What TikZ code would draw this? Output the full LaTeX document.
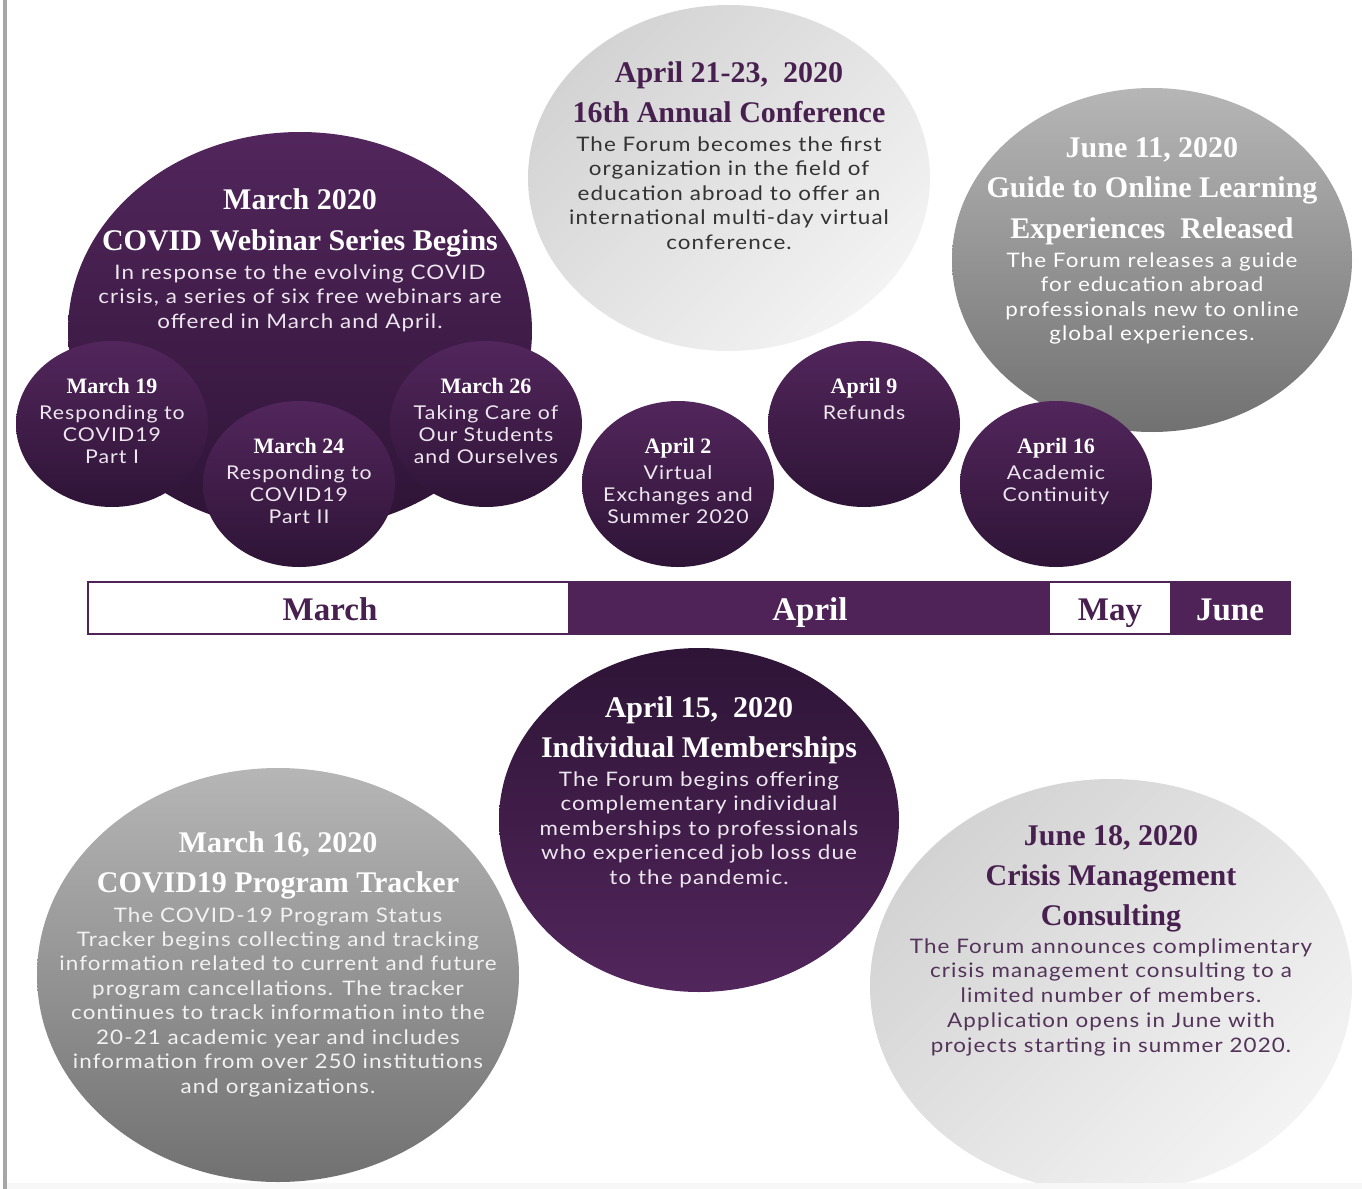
\documentclass[tikz,border=0pt]{standalone}
\usepackage{fontspec}
\setmainfont{Lato}[LetterSpace=5.5, FakeStretch=1.12]
\newfontfamily\hdfont{Liberation Serif}

\definecolor{purtop}{HTML}{52265C}
\definecolor{purbot}{HTML}{2E1436}
\definecolor{purbar}{HTML}{4F2358}
\definecolor{purtxt}{HTML}{48204F}
\definecolor{grtop}{HTML}{B6B6B6}
\definecolor{grbot}{HTML}{717171}
\definecolor{lgA}{HTML}{D3D3D3}
\definecolor{lgB}{HTML}{F3F3F3}
\definecolor{softw}{HTML}{EDE6EE}

\tikzset{
  hdbig/.style={font=\hdfont\bfseries\fontsize{15}{18}\selectfont, anchor=base, inner sep=0pt},
  hdsmall/.style={font=\hdfont\bfseries\fontsize{11}{13}\selectfont, anchor=base, inner sep=0pt},
  bodybig/.style={font=\fontsize{10}{12}\selectfont, anchor=base, inner sep=0pt},
  bodysmall/.style={font=\fontsize{9.5}{11}\selectfont, anchor=base, inner sep=0pt},
  month/.style={font=\hdfont\bfseries\fontsize{16.5}{20}\selectfont, anchor=base, inner sep=0pt},
  purball/.style={top color=purtop, bottom color=purbot},
  purflip/.style={top color=purbot, bottom color=purtop},
  grayball/.style={top color=grtop, bottom color=grbot},
  lightball/.style={top color=lgA, bottom color=lgB, shading angle=45},
}

\begin{document}
\begin{tikzpicture}[x=0.5pt, y=-0.5pt]
\useasboundingbox (0,0) rectangle (1362,1189);
%\draw[step=100,gray,very thin] (0,0) grid (1362,1189);

\fill[black!35] (3,0) rectangle (7,1189);

% top row of bubbles
\shade[lightball] (729,178) ellipse [x radius=201, y radius=173];
\shade[grayball] (1152,260) ellipse [x radius=200, y radius=172];
\shade[purball] (300,331) ellipse [x radius=232, y radius=199];

\shade[purball] (112,424) ellipse [x radius=96, y radius=83];
\shade[purball] (486,424) ellipse [x radius=96, y radius=83];
\shade[purball] (299,484) ellipse [x radius=96, y radius=83];
\shade[purball] (678,484) ellipse [x radius=96, y radius=83];
\shade[purball] (864,424) ellipse [x radius=96, y radius=83];
\shade[purball] (1056,484) ellipse [x radius=96, y radius=83];

% bottom row of bubbles
\shade[purflip] (699,820) ellipse [x radius=200, y radius=172];
\shade[grayball] (278,975) ellipse [x radius=241, y radius=207];
\shade[lightball] (1111,986) ellipse [x radius=241, y radius=207];

\fill[black!3] (7,1183) rectangle (1362,1189);

% March 2020
\node[hdbig, text=white] (m20a) at (300,209) {March 2020};
\node[hdbig, text=white] (m20b) at (300,250) {COVID Webinar Series Begins};
\foreach \ln [count=\i from 0] in {{In response to the evolving COVID},{crisis, a series of six free webinars are},{offered in March and April.}}
  \node[bodybig, text=softw] (m20t\i) at (300,279+24.5*\i) {\ln};

% webinars
\node[hdsmall, text=white] (m19) at (112,393) {March 19};
\foreach \ln [count=\i from 0] in {Responding to,COVID19,Part I}
  \node[bodysmall, text=softw] (m19t\i) at (112,419+22*\i) {\ln};
\node[hdsmall, text=white] (m24) at (299,453) {March 24};
\foreach \ln [count=\i from 0] in {Responding to,COVID19,Part II}
  \node[bodysmall, text=softw] (m24t\i) at (299,479+22*\i) {\ln};
\node[hdsmall, text=white] (m26) at (486,393) {March 26};
\foreach \ln [count=\i from 0] in {Taking Care of,Our Students,and Ourselves}
  \node[bodysmall, text=softw] (m26t\i) at (486,419+22*\i) {\ln};
\node[hdsmall, text=white] (a02) at (678,453) {April 2};
\foreach \ln [count=\i from 0] in {Virtual,Exchanges and,Summer 2020}
  \node[bodysmall, text=softw] (a02t\i) at (678,479+22*\i) {\ln};
\node[hdsmall, text=white] (a09) at (864,393) {April 9};
\node[bodysmall, text=softw] (a09t0) at (864,419) {Refunds};
\node[hdsmall, text=white] (a16) at (1056,453) {April 16};
\foreach \ln [count=\i from 0] in {Academic,Continuity}
  \node[bodysmall, text=softw] (a16t\i) at (1056,479+22*\i) {\ln};

% April 21-23
\node[hdbig, text=purtxt] (a21a) at (729,82) {April 21-23,~ 2020};
\node[hdbig, text=purtxt] (a21b) at (729,122) {16th Annual Conference};
\foreach \ln [count=\i from 0] in {The Forum becomes the first,organization in the field of,education abroad to offer an,international multi-day virtual,conference.}
  \node[bodybig, text=black!80] (a21t\i) at (729,151+24.5*\i) {\ln};

% June 11
\node[hdbig, text=white] (j11a) at (1152,157) {June 11, 2020};
\node[hdbig, text=white] (j11b) at (1152,197) {Guide to Online Learning};
\node[hdbig, text=white] (j11c) at (1152,238) {Experiences~ Released};
\foreach \ln [count=\i from 0] in {The Forum releases a guide,for education abroad,professionals new to online,global experiences.}
  \node[bodybig, text=white] (j11t\i) at (1152,267+24.5*\i) {\ln};

% timeline
\draw[draw=purbar, line width=1.3pt, fill=white] (88,582) rectangle (1290,634);
\fill[purbar] (568,582) rectangle (1050,634);
\fill[purbar] (1170,582) rectangle (1290,634);
\node[month, text=purtxt] (mar) at (330,620) {March};
\node[month, text=white] (apr) at (810,620) {April};
\node[month, text=purtxt] (may) at (1110,620) {May};
\node[month, text=white] (jun) at (1230,620) {June};

% April 15
\node[hdbig, text=white] (a15a) at (699,717) {April 15,~ 2020};
\node[hdbig, text=white] (a15b) at (699,757) {Individual Memberships};
\foreach \ln [count=\i from 0] in {The Forum begins offering,complementary individual,memberships to professionals,who experienced job loss due,to the pandemic.}
  \node[bodybig, text=softw] (a15t\i) at (699,786+24.5*\i) {\ln};

% March 16
\node[hdbig, text=white] (m16a) at (278,852) {March 16, 2020};
\node[hdbig, text=white] (m16b) at (278,892) {COVID19 Program Tracker};
\foreach \ln [count=\i from 0] in {The COVID-19 Program Status,Tracker begins collecting and tracking,information related to current and future,program cancellations. The tracker,continues to track information into the,20-21 academic year and includes,information from over 250 institutions,and organizations.}
  \node[bodybig, text=white!95!black] (m16t\i) at (278,922+24.43*\i) {\ln};

% June 18
\node[hdbig, text=purtxt] (j18a) at (1111,845) {June 18, 2020};
\node[hdbig, text=purtxt] (j18b) at (1111,885) {Crisis Management};
\node[hdbig, text=purtxt] (j18c) at (1111,925) {Consulting};
\foreach \ln [count=\i from 0] in {The Forum announces complimentary,crisis management consulting to a,limited number of members.,Application opens in June with,projects starting in summer 2020.}
  \node[bodybig, text=purtxt!80!gray] (j18t\i) at (1111,953+24.75*\i) {\ln};

\end{tikzpicture}
\end{document}
